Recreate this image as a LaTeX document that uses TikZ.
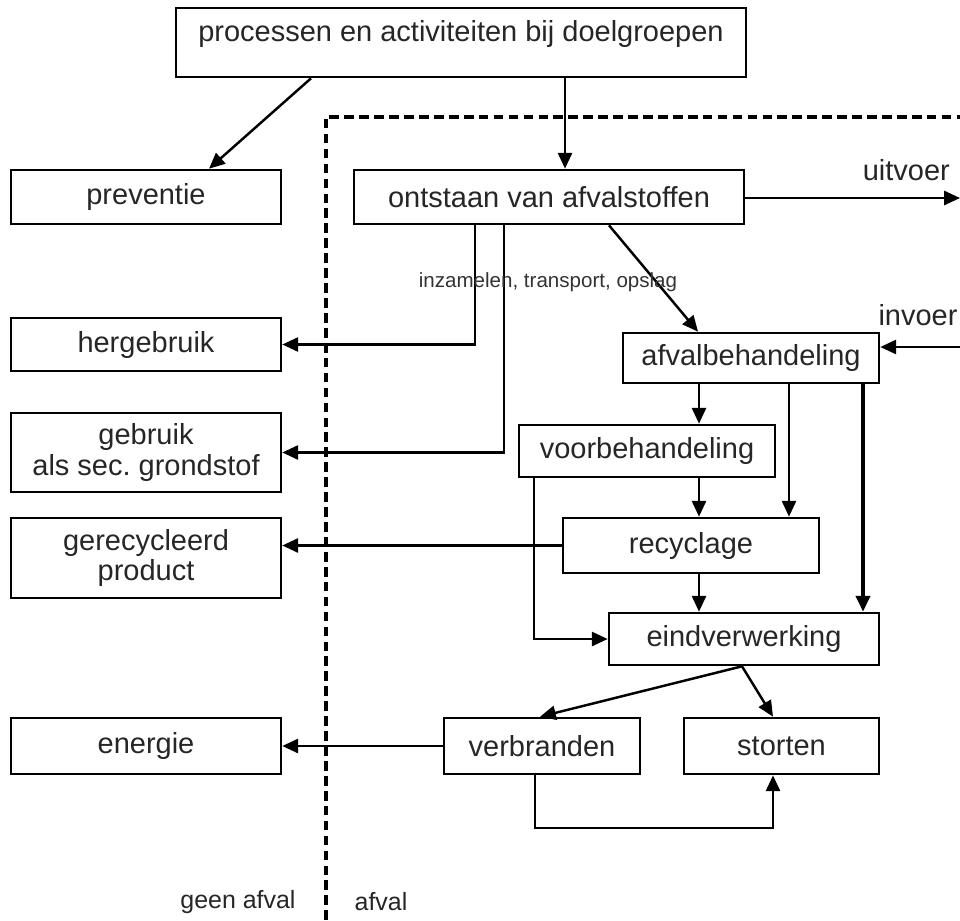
\documentclass[tikz,border=0pt]{standalone}
\usepackage{fontspec}
\setmainfont{Liberation Sans}
\usetikzlibrary{arrows.meta}
\frenchspacing
\begin{document}
\begin{tikzpicture}[x=0.02cm,y=-0.02cm,
    box/.style={draw,line width=1.5pt,inner sep=0pt,align=center,text=black!85,
      font=\fontsize{16.5}{17.5}\selectfont},
    arr/.style={-{Triangle[length=9pt,width=8pt]},line width=1.4pt},
    lbl/.style={text=black!85,font=\fontsize{16.5}{17.5}\selectfont}]
    \useasboundingbox(0,0)rectangle(960,920);
    %bovenste vak
    \node[box,minimum width=11.4cm,minimum height=1.38cm,text depth=0.48cm](proc)at(461,42.5){processen en activiteiten bij doelgroepen};
    %geen afval
    \node[box,minimum width=5.4cm,minimum height=1.08cm](prev)at(146,197){preventie};
    \node[box,minimum width=5.4cm,minimum height=1.06cm](herg)at(146,344.5){hergebruik};
    \node[box,minimum width=5.4cm,minimum height=1.58cm](gebr)at(146,452.5){gebruik\\als sec.\ grondstof};
    \node[box,minimum width=5.4cm,minimum height=1.6cm](gerec)at(146,558){gerecycleerd\\product};
    \node[box,minimum width=5.4cm,minimum height=1.12cm](energ)at(146,746){energie};
    %afval
    \node[box,minimum width=7.8cm,minimum height=1.08cm](ontst)at(549,197){ontstaan van afvalstoffen};
    \node[box,minimum width=5.12cm,minimum height=1.0cm](afvb)at(751,358){afvalbehandeling};
    \node[box,minimum width=5.12cm,minimum height=1.04cm](voorb)at(647,451){voorbehandeling};
    \node[box,minimum width=5.12cm,minimum height=1.1cm](recy)at(691,545.5){recyclage};
    \node[box,minimum width=5.4cm,minimum height=1.04cm](eindv)at(744,639){eindverwerking};
    \node[box,minimum width=3.92cm,minimum height=1.12cm](verbr)at(542,746){verbranden};
    \node[box,minimum width=3.9cm,minimum height=1.12cm](stort)at(781.5,746){storten};
    %grens
    \draw[line width=2.4pt,dash pattern=on 5.5pt off 3pt](326,920)--(326,117)--(960,117);
    \node[lbl,font=\fontsize{14.2}{16}\selectfont](geen)at(238,902){geen afval};
    \node[lbl,font=\fontsize{14.2}{16}\selectfont](afv)at(381,902){afval};
    %pijlen
    \draw[arr](311,0|-proc.south)--(209,0|-prev.north);
    \draw[arr](565,0|-proc.south)--(565,0|-ontst.north);
    \coordinate(uitv)at(960,198);
    \draw[arr](ontst.east|-uitv)--(uitv)node[pos=0.75,above=6pt,lbl]{uitvoer};
    \coordinate(invo)at(960,347);
    \draw[arr](invo)--(invo-|afvb.east);
    \node[lbl](invoer)at(918,315){invoer};
    \draw[arr](475,0|-ontst.south)|-(herg.east);
    \draw[arr](504,0|-ontst.south)|-(gebr.east);
    \draw[arr](609,0|-ontst.south)--(698,0|-afvb.north);
    \node[text=black!80,font=\fontsize{11.7}{13}\selectfont](inz)at(548,282){inzamelen, transport, opslag};
    \draw[arr](699,0|-afvb.south)--(699,0|-voorb.north);
    \draw[arr](789,0|-afvb.south)--(789,0|-recy.north);
    \draw[arr,line width=2pt](863,0|-afvb.south)--(863,0|-eindv.north);
    \draw[arr](699,0|-voorb.south)--(699,0|-recy.north);
    \draw[arr](534,0|-voorb.south)|-(eindv.west);
    \draw[arr](recy.west)--(recy.west-|gerec.east);
    \draw[arr](699,0|-recy.south)--(699,0|-eindv.north);
    \draw[arr](742,0|-eindv.south)--(540,0|-verbr.north);
    \draw[arr](742,0|-eindv.south)--(773,0|-stort.north);
    \draw[arr](verbr.west)--(energ.east);
    \draw[arr](535,0|-verbr.south)--(535,828)-|(773,0|-stort.south);
  \end{tikzpicture}
\end{document}
